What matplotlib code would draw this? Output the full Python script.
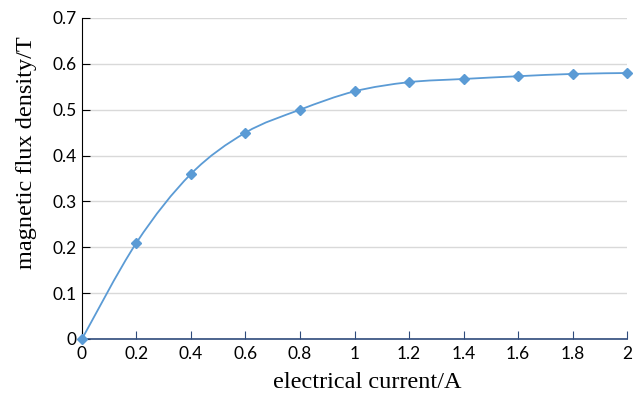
import numpy as np
import matplotlib.pyplot as plt
from matplotlib.path import Path
from matplotlib.patches import PathPatch

current = [0, 0.2, 0.4, 0.6, 0.8, 1.0, 1.2, 1.4, 1.6, 1.8, 2.0]
flux = [0, 0.21, 0.36, 0.45, 0.50, 0.54, 0.56, 0.567, 0.573, 0.578, 0.58]
xticks = [0, 0.2, 0.4, 0.6, 0.8, 1, 1.2, 1.4, 1.6, 1.8, 2]
xtick_labels = ['0', '0.2', '0.4', '0.6', '0.8', '1', '1.2', '1.4', '1.6', '1.8', '2']
yticks = [0, 0.1, 0.2, 0.3, 0.4, 0.5, 0.6, 0.7]
ytick_labels = ['0', '0.1', '0.2', '0.3', '0.4', '0.5', '0.6', '0.7']

color = '#5B9BD5'

fig = plt.figure(figsize=(6.38, 3.97), dpi=100)
ax = fig.add_axes([0.1285, 0.1461, 0.8543, 0.8086])

# smoothed line like excel (bezier through the points)
x = np.array(current)
y = np.array(flux)
verts = [(x[0], y[0])]
codes = [Path.MOVETO]
for i in range(len(x) - 1):
    x0, y0 = (x[i - 1], y[i - 1]) if i > 0 else (x[i], y[i])
    x3, y3 = (x[i + 2], y[i + 2]) if i + 2 < len(x) else (x[i + 1], y[i + 1])
    c1 = (x[i] + (x[i + 1] - x0) / 6, y[i] + (y[i + 1] - y0) / 6)
    c2 = (x[i + 1] - (x3 - x[i]) / 6, y[i + 1] - (y3 - y[i]) / 6)
    verts += [c1, c2, (x[i + 1], y[i + 1])]
    codes += [Path.CURVE4] * 3
ax.add_patch(PathPatch(Path(verts, codes), fill=False, edgecolor=color, lw=1.3, zorder=3))
ax.plot(current, flux, linestyle='none', marker='D', markersize=5.5, color=color, zorder=4, clip_on=False)

ax.set_xlim(0, 2)
ax.set_ylim(0, 0.7)
ax.set_xticks(xticks)
ax.set_xticklabels(xtick_labels)
ax.set_yticks(yticks)
ax.set_yticklabels(ytick_labels)
ax.grid(axis='y', color='#d9d9d9', lw=1)
ax.set_axisbelow(True)

for s in ['top', 'right']:
    ax.spines[s].set_visible(False)
ax.spines['left'].set_color('black')
ax.spines['bottom'].set_color('#2f4b7c')
ax.spines['bottom'].set_linewidth(1.2)
ax.tick_params(axis='y', direction='in', length=6, color='black', labelsize=12.5, pad=4)
ax.tick_params(axis='x', direction='in', length=6, color='#2f4b7c', labelsize=12.5, pad=5)
for lab in ax.get_xticklabels() + ax.get_yticklabels():
    lab.set_fontfamily('Lato')

ax.set_xlabel('electrical current/A', fontfamily='Liberation Serif', fontsize=17.5, va='center')
ax.set_ylabel('magnetic flux density/T', fontfamily='Liberation Serif', fontsize=17.5, va='center')
ax.xaxis.set_label_coords(0.523, -0.137)
ax.yaxis.set_label_coords(-0.101, 0.58)

fig.savefig('out.png', dpi=100)
